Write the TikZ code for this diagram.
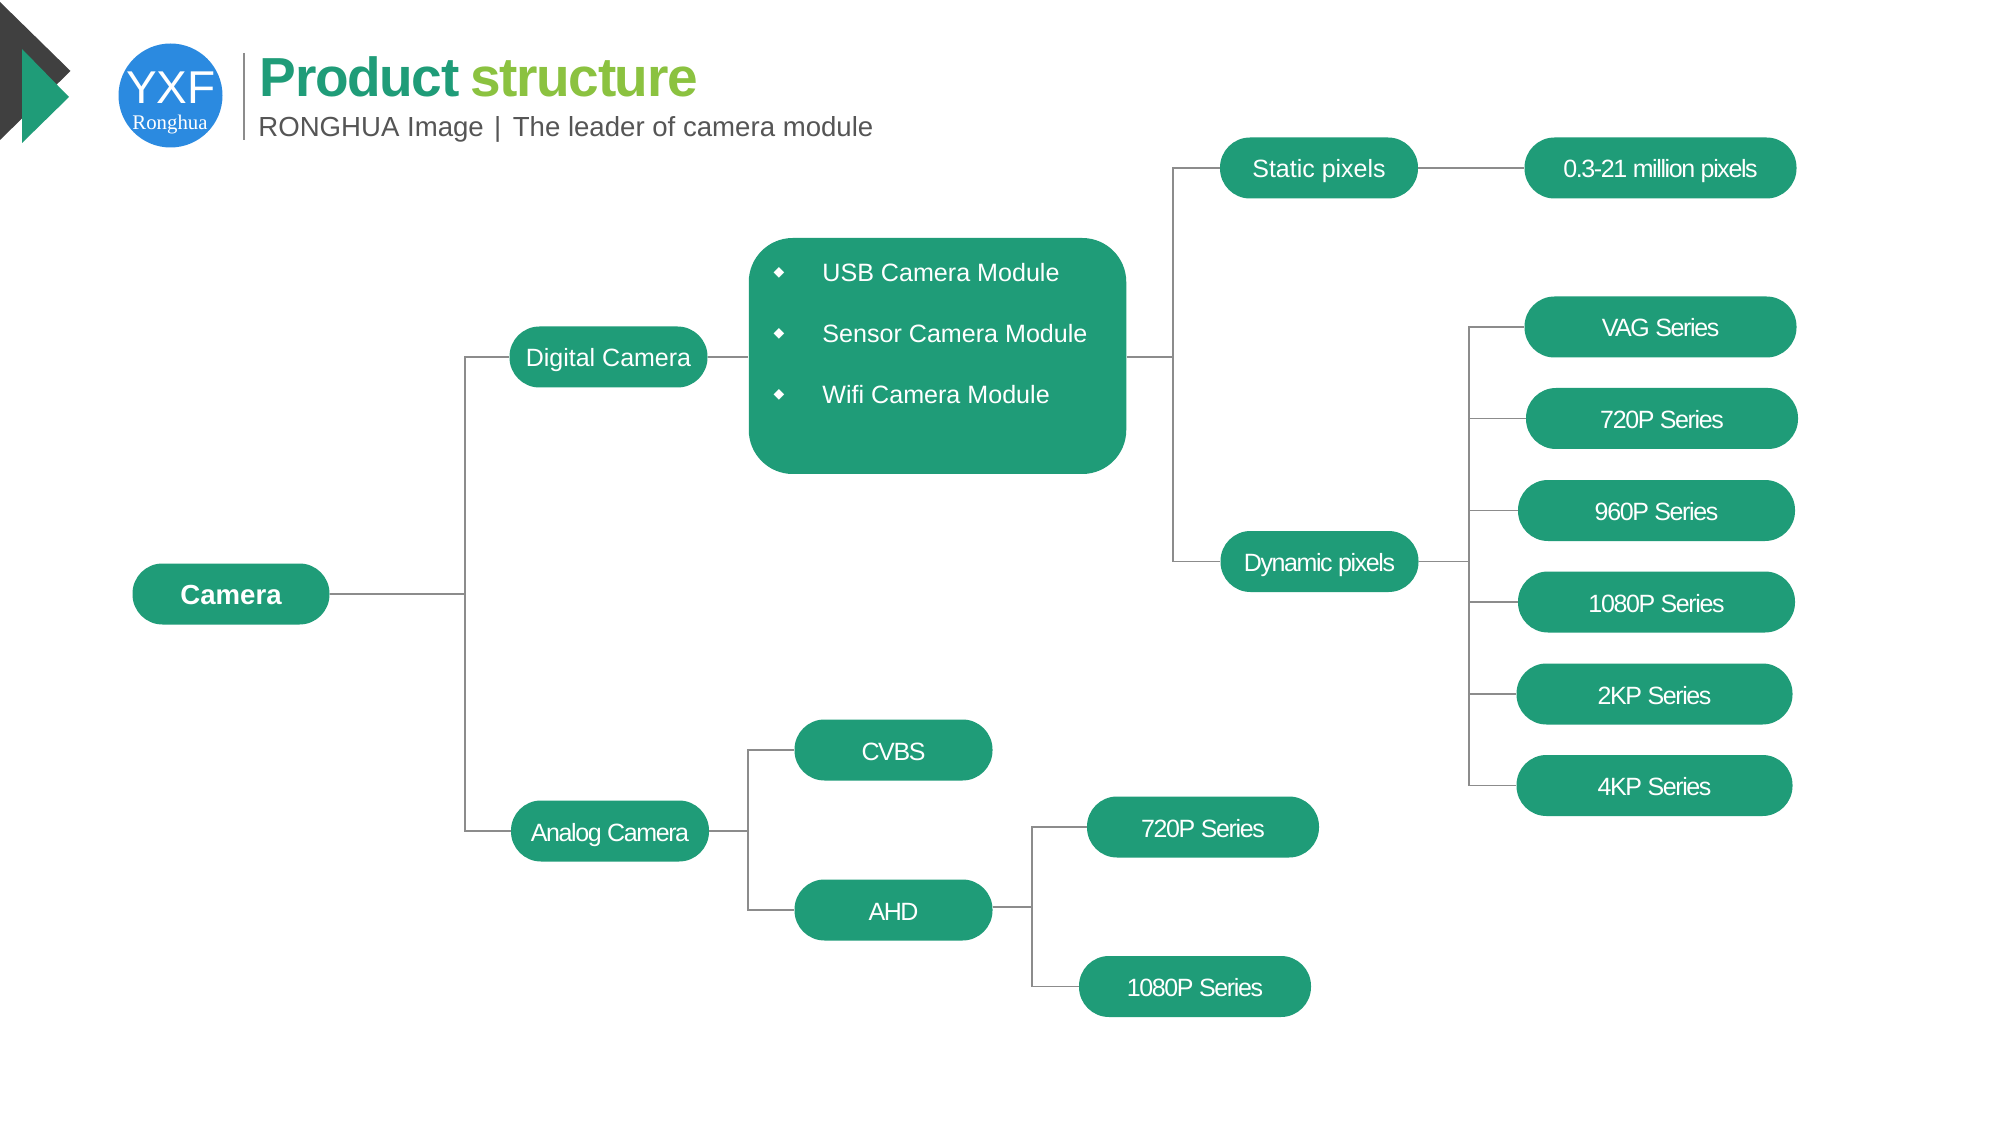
\documentclass[tikz,border=0pt]{standalone}
\usepackage{fontspec}
\setmainfont{Liberation Sans}
\newfontfamily\serifrh{Liberation Serif}
\newfontfamily\symfont{DejaVu Sans}
\definecolor{pillgreen}{HTML}{1F9C78}
\definecolor{lightgreen}{HTML}{8BC240}
\definecolor{darkarrow}{HTML}{404040}
\definecolor{logoblue}{HTML}{2B8AE0}
\definecolor{linegrey}{HTML}{8C8C8C}
\definecolor{subgrey}{HTML}{555555}
\tikzset{
  pill/.style={fill=pillgreen,text=white,inner sep=0pt,rounded corners=15pt,minimum height=30.5pt,text height=10pt,text depth=0pt,align=center,font=\fontsize{12.5}{15}\selectfont},
  tightpill/.style={pill,font=\fontsize{12.5}{15}\selectfont\addfontfeature{LetterSpace=-5.6}},
  rootpill/.style={pill,text height=10pt,font=\fontsize{13.8}{16}\selectfont\bfseries},
  bigbox/.style={fill=pillgreen,inner sep=0pt,rounded corners=22pt},
  wire/.style={draw=linegrey,line width=.65pt},
  bulletmark/.style={text=white,inner sep=0pt,font=\symfont\fontsize{7}{8}\selectfont},
  bullettext/.style={text=white,inner sep=0pt,anchor=west,text height=9pt,text depth=0pt,font=\fontsize{12.55}{15}\selectfont},
  titletext/.style={inner sep=0pt,anchor=base west,font=\fontsize{27.5}{30}\selectfont\bfseries\addfontfeature{LetterSpace=-2.5}},
  subtext/.style={inner sep=0pt,anchor=base west,text=subgrey,font=\fontsize{13.8}{16}\selectfont}
}
\begin{document}
\begin{tikzpicture}[x=.5pt,y=-.5pt]
\useasboundingbox[fill=white] (0,0) rectangle (2000,1122);
% corner arrows
\fill[darkarrow] (0,2) -- (70.5,71) -- (0,140) -- cycle;
\fill[pillgreen] (22,49) -- (69,97) -- (22,143) -- cycle;
% logo
\node[circle,fill=logoblue,minimum size=52pt,inner sep=0pt] (logo) at (170.5,95.5) {};
\node[inner sep=0pt,text=white,font=\fontsize{23}{25}\selectfont] (yxf) at (171,88) {YXF};
\node[inner sep=0pt,text=white,font=\serifrh\fontsize{10.4}{12}\selectfont] (rh) at (170,125) {Ronghua};
\coordinate (rulea) at (244,53);
\coordinate (ruleb) at (244,140);
\draw[wire] (rulea) -- (ruleb);
% title
\node[titletext,text=pillgreen] (t1) at (259.5,97) {Product};
\node[titletext,text=lightgreen] (t2) at (470,97) {structure};
\node[subtext] (sub) at (258,136.5) {RONGHUA Image\hspace*{5.2pt}|\hspace*{5.7pt}The leader of camera module};
% nodes
\node[rootpill,minimum width=98.5pt] (camera) at (231,594) {Camera};
\node[pill,minimum width=99pt] (digital) at (608.5,357) {Digital Camera};
\node[tightpill,minimum width=99pt] (analog) at (610,831) {Analog Camera};
\node[bigbox,minimum width=188.75pt,minimum height=118pt] (box) at (937.5,356) {};
\node[pill,minimum width=99pt] (static) at (1319,168) {Static pixels};
\node[tightpill,minimum width=99pt] (dynamic) at (1319.5,561.5) {Dynamic pixels};
\node[tightpill,minimum width=136pt] (m21) at (1660.5,168) {0.3-21 million pixels};
\node[tightpill,minimum width=136pt] (vag) at (1660.5,327) {VAG Series};
\node[tightpill,minimum width=136pt] (p720) at (1662,418.5) {720P Series};
\node[tightpill,minimum width=138.5pt] (p960) at (1656.5,510.5) {960P Series};
\node[tightpill,minimum width=138.5pt] (p1080) at (1656.5,602) {1080P Series};
\node[tightpill,minimum width=138pt] (k2) at (1654.5,694) {2KP Series};
\node[tightpill,minimum width=138pt] (k4) at (1654.5,785.5) {4KP Series};
\node[tightpill,minimum width=99pt] (cvbs) at (893.5,750) {CVBS};
\node[tightpill,minimum width=99pt] (ahd) at (893.5,910) {AHD};
\node[tightpill,minimum width=116pt] (ap720) at (1203,827) {720P Series};
\node[tightpill,minimum width=116pt] (ap1080) at (1195,986.5) {1080P Series};
% bullets
\node[bulletmark] (b1) at (779,273) {◆};
\node[bulletmark] (b2) at (779,334) {◆};
\node[bulletmark] (b3) at (779,395) {◆};
\node[bullettext] (l1) at (822,273) {USB Camera Module};
\node[bullettext] (l2) at (822,334) {Sensor Camera Module};
\node[bullettext] (l3) at (822,395) {Wifi Camera Module};
% buses
\coordinate (busa) at (465,594);
\coordinate (busb) at (1173,357);
\coordinate (busc) at (1469,561.5);
\coordinate (busd) at (748,831);
\coordinate (buse) at (1032,907);
% connectors
\draw[wire] (camera.east) -- (busa);
\draw[wire] (digital.west) -| (busa) |- (analog.west);
\draw[wire] (digital.east) -- (box.west |- digital.east);
\draw[wire] (box.east |- busb) -- (busb);
\draw[wire] (static.west) -| (busb) |- (dynamic.west);
\draw[wire] (static.east) -- (m21.west);
\draw[wire] (dynamic.east) -- (busc);
\draw[wire] (vag.west) -| (busc) |- (k4.west);
\draw[wire] (p720.west) -- (busc |- p720.west);
\draw[wire] (p960.west) -- (busc |- p960.west);
\draw[wire] (p1080.west) -- (busc |- p1080.west);
\draw[wire] (k2.west) -- (busc |- k2.west);
\draw[wire] (analog.east) -- (busd);
\draw[wire] (cvbs.west) -| (busd) |- (ahd.west);
\draw[wire] (ahd.east |- buse) -- (buse);
\draw[wire] (ap720.west) -| (buse) |- (ap1080.west);
\end{tikzpicture}
\end{document}
